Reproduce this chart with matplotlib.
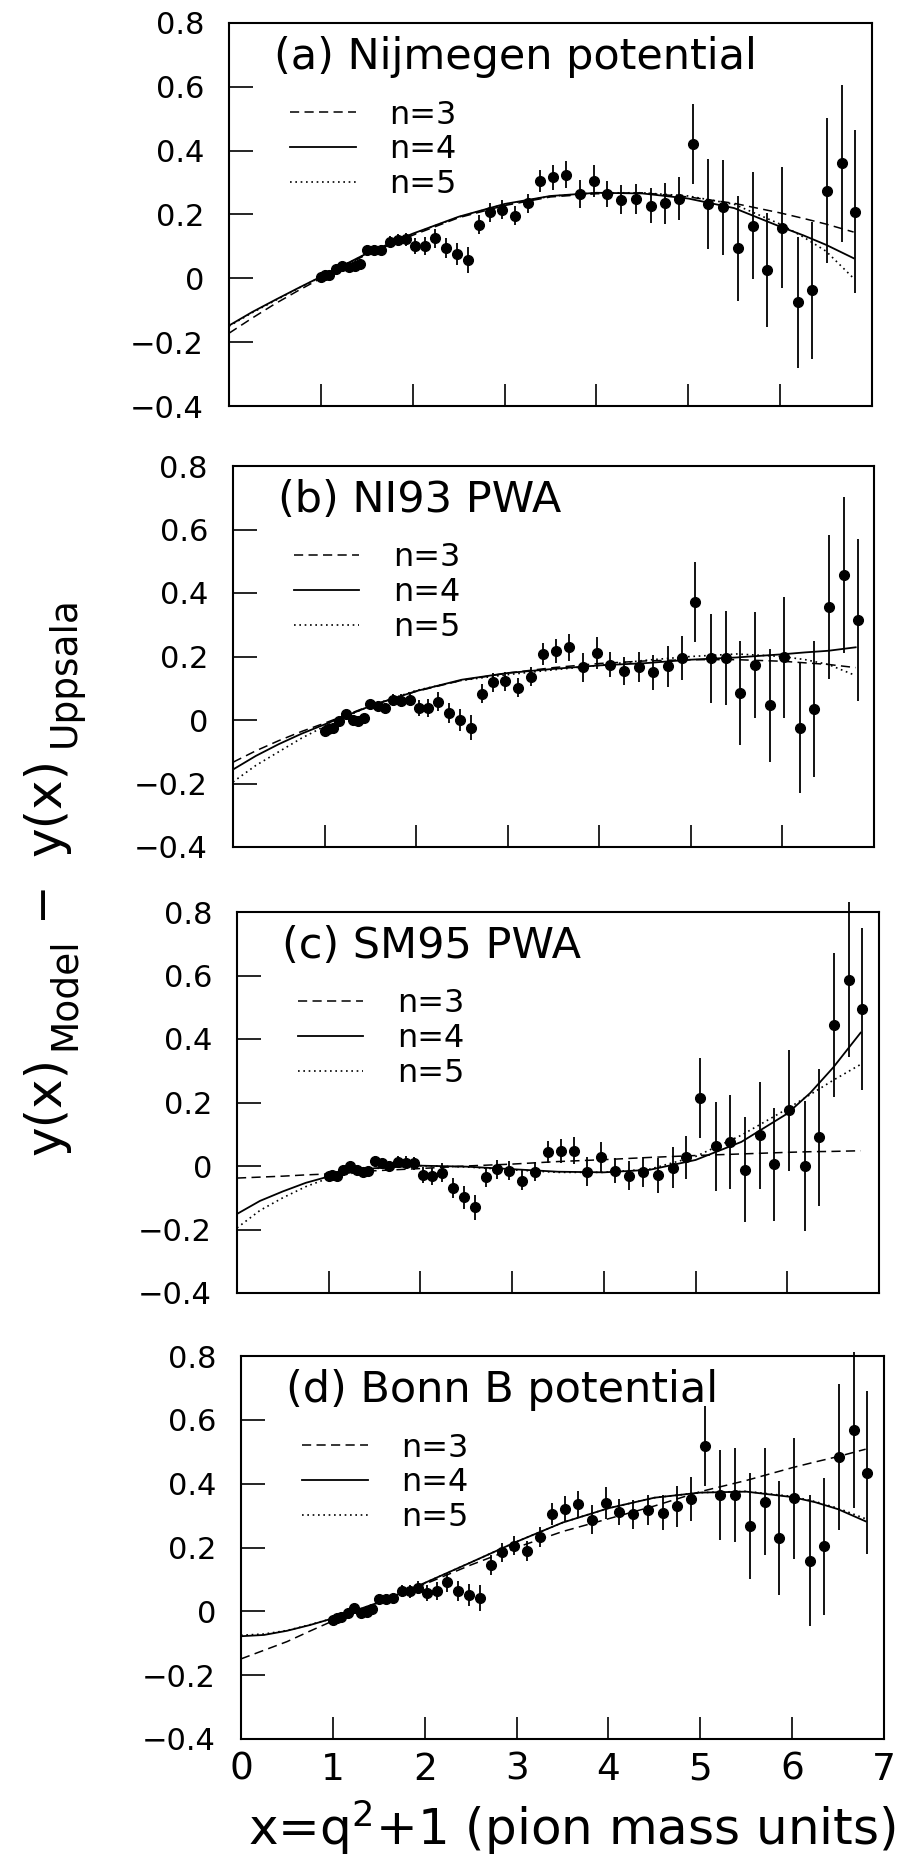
import matplotlib
matplotlib.use('Agg')
import matplotlib.pyplot as plt

plt.rcParams['font.family'] = ['DejaVu Sans']
plt.rcParams['mathtext.default'] = 'regular'

W, H, DPI = 909, 1872, 100

# ---------------- data ----------------
x_data = [1.00, 1.04, 1.09, 1.16, 1.23, 1.31, 1.37, 1.43, 1.50, 1.58, 1.66, 1.75,
          1.84, 1.93, 2.03, 2.13, 2.24, 2.36, 2.48, 2.60, 2.72, 2.84, 2.97, 3.11,
          3.25, 3.39, 3.53, 3.67, 3.82, 3.97, 4.12, 4.27, 4.43, 4.59, 4.75, 4.90,
          5.05, 5.22, 5.38, 5.54, 5.70, 5.86, 6.02, 6.19, 6.35, 6.51, 6.67, 6.82]

y_err = [0.012, 0.012, 0.012, 0.012, 0.012, 0.012, 0.012, 0.012,
         0.015, 0.015, 0.015, 0.018, 0.020, 0.020,
         0.025, 0.028, 0.030, 0.032, 0.035, 0.040,
         0.030, 0.030, 0.030, 0.030, 0.030,
         0.035, 0.038, 0.042, 0.045, 0.050,
         0.040, 0.045, 0.047, 0.055, 0.065, 0.068,
         0.125, 0.140, 0.148, 0.165, 0.168, 0.178,
         0.190, 0.205, 0.215, 0.228, 0.245, 0.255]

y_nijmegen = [0.005, 0.010, 0.010, 0.030, 0.040, 0.035, 0.040, 0.045,
              0.090, 0.090, 0.090, 0.115, 0.120, 0.122,
              0.100, 0.100, 0.125, 0.095, 0.077, 0.058,
              0.168, 0.207, 0.215, 0.196, 0.235,
              0.305, 0.316, 0.325, 0.264, 0.305,
              0.265, 0.246, 0.248, 0.227, 0.235, 0.250,
              0.420, 0.233, 0.222, 0.094, 0.165, 0.026,
              0.159, -0.075, -0.037, 0.275, 0.360, 0.209]

y_ni93 = [-0.034, -0.027, -0.024, -0.003, 0.018, 0.000, -0.003, 0.007,
          0.049, 0.044, 0.039, 0.063, 0.061, 0.063,
          0.039, 0.039, 0.057, 0.021, 0.000, -0.024,
          0.083, 0.119, 0.122, 0.101, 0.137,
          0.209, 0.218, 0.229, 0.166, 0.210,
          0.174, 0.155, 0.168, 0.151, 0.169, 0.195,
          0.372, 0.195, 0.195, 0.085, 0.173, 0.047,
          0.197, -0.024, 0.035, 0.356, 0.457, 0.315]

y_sm95 = [-0.033, -0.028, -0.031, -0.012, 0.000, -0.012, -0.020, -0.016,
          0.017, 0.008, 0.000, 0.014, 0.011, 0.008,
          -0.028, -0.033, -0.021, -0.070, -0.099, -0.130,
          -0.035, -0.010, -0.015, -0.046, -0.018,
          0.045, 0.048, 0.048, -0.018, 0.027,
          -0.015, -0.030, -0.019, -0.029, -0.005, 0.027,
          0.214, 0.062, 0.076, -0.012, 0.097, 0.005,
          0.175, 0.001, 0.090, 0.444, 0.587, 0.495]

y_bonnb = [-0.026, -0.022, -0.019, -0.005, 0.011, -0.005, -0.002, 0.007,
           0.040, 0.040, 0.042, 0.063, 0.063, 0.074,
           0.056, 0.063, 0.091, 0.063, 0.051, 0.042,
           0.145, 0.185, 0.205, 0.189, 0.233,
           0.305, 0.322, 0.336, 0.287, 0.338,
           0.311, 0.304, 0.319, 0.309, 0.329, 0.352,
           0.518, 0.364, 0.364, 0.267, 0.343, 0.229,
           0.354, 0.159, 0.204, 0.483, 0.568, 0.434]

x_fit = [0.0, 0.25, 0.5, 0.75, 1.0, 1.5, 2.0, 2.5, 3.0, 3.5, 4.0, 4.5, 5.0, 5.5, 6.0, 6.25, 6.5, 6.8]

fit_a_n3 = [-0.172, -0.125, -0.080, -0.039, 0.000, 0.075, 0.135, 0.190, 0.228, 0.255, 0.265, 0.268, 0.255, 0.235, 0.205, 0.188, 0.170, 0.145]
fit_a_n4 = [-0.148, -0.106, -0.068, -0.031, 0.005, 0.078, 0.140, 0.193, 0.233, 0.258, 0.268, 0.266, 0.250, 0.220, 0.162, 0.135, 0.105, 0.063]
fit_a_n5 = [-0.150, -0.108, -0.070, -0.032, 0.004, 0.077, 0.139, 0.192, 0.232, 0.257, 0.268, 0.268, 0.258, 0.232, 0.170, 0.130, 0.085, 0.000]

fit_b_n3 = [-0.133, -0.097, -0.065, -0.036, -0.010, 0.045, 0.090, 0.125, 0.148, 0.165, 0.178, 0.186, 0.190, 0.190, 0.185, 0.180, 0.175, 0.165]
fit_b_n4 = [-0.156, -0.113, -0.076, -0.043, -0.014, 0.044, 0.091, 0.127, 0.148, 0.161, 0.172, 0.179, 0.190, 0.197, 0.207, 0.213, 0.218, 0.229]
fit_b_n5 = [-0.195, -0.143, -0.100, -0.057, -0.020, 0.045, 0.093, 0.125, 0.143, 0.158, 0.172, 0.188, 0.200, 0.208, 0.200, 0.190, 0.175, 0.140]

fit_c_n3 = [-0.038, -0.035, -0.032, -0.028, -0.025, -0.015, -0.008, 0.000, 0.006, 0.014, 0.020, 0.027, 0.033, 0.038, 0.043, 0.045, 0.046, 0.048]
fit_c_n4 = [-0.151, -0.110, -0.080, -0.053, -0.033, -0.007, 0.001, -0.002, -0.010, -0.018, -0.020, -0.012, 0.019, 0.076, 0.165, 0.230, 0.310, 0.420]
fit_c_n5 = [-0.195, -0.140, -0.100, -0.065, -0.038, -0.008, 0.001, -0.003, -0.012, -0.020, -0.020, -0.010, 0.030, 0.097, 0.180, 0.225, 0.270, 0.320]

fit_d_n3 = [-0.149, -0.122, -0.095, -0.062, -0.030, 0.028, 0.085, 0.145, 0.200, 0.250, 0.290, 0.330, 0.375, 0.410, 0.450, 0.468, 0.485, 0.508]
fit_d_n4 = [-0.078, -0.074, -0.061, -0.043, -0.022, 0.028, 0.089, 0.153, 0.218, 0.278, 0.323, 0.356, 0.372, 0.375, 0.358, 0.342, 0.320, 0.282]
fit_d_n5 = [-0.075, -0.071, -0.060, -0.042, -0.022, 0.028, 0.089, 0.153, 0.218, 0.278, 0.323, 0.356, 0.372, 0.376, 0.360, 0.344, 0.323, 0.290]

panel_titles = ['(a) Nijmegen potential', '(b) NI93 PWA', '(c) SM95 PWA', '(d) Bonn B potential']
legend_labels = ['n=3', 'n=4', 'n=5']
y_ticks = [-0.4, -0.2, 0.0, 0.2, 0.4, 0.6, 0.8]
y_ticklabels = ['\u22120.4', '\u22120.2', '0', '0.2', '0.4', '0.6', '0.8']
x_ticks = [0, 1, 2, 3, 4, 5, 6, 7]
x_ticklabels = ['0', '1', '2', '3', '4', '5', '6', '7']

# panel frames in pixels: (left, top, right, bottom)
panels = [
    (panel_titles[0], y_nijmegen, fit_a_n3, fit_a_n4, fit_a_n5, (229, 23, 872, 406)),
    (panel_titles[1], y_ni93, fit_b_n3, fit_b_n4, fit_b_n5, (233, 466, 874, 847)),
    (panel_titles[2], y_sm95, fit_c_n3, fit_c_n4, fit_c_n5, (237, 912, 879, 1293)),
    (panel_titles[3], y_bonnb, fit_d_n3, fit_d_n4, fit_d_n5, (241, 1356, 884, 1739)),
]

fig = plt.figure(figsize=(W / DPI, H / DPI), dpi=DPI)
fig.patch.set_facecolor('white')

for i, (title, yv, f3, f4, f5, box) in enumerate(panels):
    l, t, r, b = box
    ax = fig.add_axes([l / W, 1 - b / H, (r - l) / W, (b - t) / H])
    ax.set_xlim(0, 7)
    ax.set_ylim(-0.4, 0.8)
    h3, = ax.plot(x_fit, f3, color='k', lw=1.1, ls=(0, (6, 3.5)))
    h4, = ax.plot(x_fit, f4, color='k', lw=1.3, ls='-')
    h5, = ax.plot(x_fit, f5, color='k', lw=1.2, ls=(0, (1, 2.2)))
    cont = ax.errorbar(x_data, yv, yerr=y_err, fmt='o', color='k', ms=7,
                       elinewidth=1.3, capsize=0)
    for coll in cont.lines[2]:
        coll.set_clip_on(False)
    ax.text(0.07, 0.91, title, transform=ax.transAxes, fontsize=31,
            ha='left', va='center')
    ax.legend([h3, h4, h5], legend_labels, loc='upper left',
              bbox_to_anchor=(0.095, 0.80), frameon=False, fontsize=23,
              handlelength=2.05, handletextpad=1.05, labelspacing=0.12,
              borderpad=0, borderaxespad=0)
    for s in ax.spines.values():
        s.set_linewidth(1.5)
    ax.set_yticks(y_ticks)
    ax.set_yticklabels(y_ticklabels)
    ax.tick_params(axis='y', direction='in', length=17, width=1.2,
                   left=True, right=False, labelsize=22, pad=18)
    if i < 3:
        ax.set_xticks(x_ticks[1:-1])
        ax.tick_params(axis='x', direction='in', length=16, width=1.2,
                       bottom=True, top=False, labelbottom=False)
    else:
        ax.set_xticks(x_ticks)
        ax.set_xticklabels(x_ticklabels)
        ax.tick_params(axis='x', direction='in', length=16, width=1.2,
                       bottom=True, top=False, labelsize=27, pad=9)

# y-axis label built from pieces (rotated, anchored at baseline)
# (text, baseline x px, centre y px, fontsize)
ylab_parts = [('y(x)', 60, 1106, 36), ('Model', 75, 994, 27),
              ('y(x)', 60, 807, 36), ('Uppsala', 75, 672, 27)]
for txt, px, py, fs in ylab_parts:
    fig.text(px / W, 1 - py / H, txt, rotation=90, fontsize=fs,
             ha='center', va='baseline', rotation_mode='anchor')
fig.text(42 / W, 1 - 899 / H, '\u2212', rotation=90, fontsize=34,
         ha='center', va='center', rotation_mode='anchor')

fig.text(572 / W, 1 - 1828 / H, 'x=q$^2$+1 (pion mass units)', fontsize=36,
         ha='center', va='center')

fig.savefig('out.png', dpi=DPI, facecolor='white')
